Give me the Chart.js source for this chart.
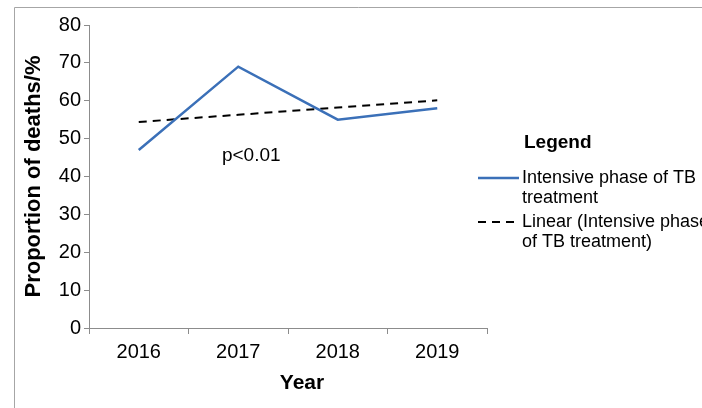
<!DOCTYPE html>
<html>
<head>
<meta charset="utf-8">
<script src="https://cdn.jsdelivr.net/npm/chart.js@4/dist/chart.umd.min.js"></script>
<style>
  html, body { margin: 0; padding: 0; background: #fff; }
  #wrap { width: 702px; height: 408px; }
</style>
</head>
<body>
<div id="wrap"><canvas id="chart"></canvas></div>
<script>
const years = ["2016", "2017", "2018", "2019"];
const deaths = [47, 69, 55, 58];
const trend = [54.4, 56.3, 58.2, 60.1];
const yTicks = [0, 10, 20, 30, 40, 50, 60, 70, 80];

const FONT = "'Liberation Sans', Arial, sans-serif";
const BLUE = "#3b70b8";
const AXIS = "#8c8c8c";

// frame, p-value note, x title and the two-line legend
const extras = {
  id: "extras",
  beforeDraw(chart) {
    const ctx = chart.ctx;
    ctx.save();
    ctx.strokeStyle = "#a6a6a6";
    ctx.lineWidth = 1;
    ctx.beginPath();
    ctx.moveTo(14.5, 408);
    ctx.lineTo(14.5, 7.5);
    ctx.lineTo(702, 7.5);
    ctx.stroke();
    ctx.restore();
  },
  afterDraw(chart) {
    const ctx = chart.ctx;
    const x = chart.scales.x;
    const y = chart.scales.y;
    ctx.save();
    ctx.fillStyle = "#000";
    ctx.textBaseline = "middle";

    ctx.font = "19px " + FONT;
    ctx.textAlign = "center";
    ctx.fillText("p<0.01", x.getPixelForValue(1) + 13, y.getPixelForValue(45.5));

    ctx.font = "bold 21px " + FONT;
    ctx.fillText("Year", 302, 383);

    ctx.textAlign = "left";
    ctx.font = "bold 19px " + FONT;
    ctx.fillText("Legend", 524, 143);

    const ds = chart.data.datasets;
    const rows = [[178, ["Intensive phase of TB", "treatment"]], [222, ["Linear (Intensive phase", "of TB treatment)"]]];
    rows.forEach(([ty, lines], i) => {
      const d = ds[i];
      ctx.strokeStyle = d.borderColor;
      ctx.lineWidth = d.borderWidth;
      ctx.setLineDash(d.borderDash || []);
      ctx.beginPath();
      ctx.moveTo(478, ty);
      ctx.lineTo(519, ty);
      ctx.stroke();
      ctx.setLineDash([]);
      ctx.font = "18px " + FONT;
      lines.forEach((t, j) => ctx.fillText(t, 522, ty + j * 20));
    });
    ctx.restore();
  }
};

new Chart(document.getElementById("chart"), {
  type: "line",
  data: {
    labels: years,
    datasets: [
      {
        label: "Intensive phase of TB treatment",
        data: deaths,
        borderColor: BLUE,
        borderWidth: 2.5,
        pointRadius: 0,
        tension: 0
      },
      {
        label: "Linear (Intensive phase of TB treatment)",
        data: trend,
        borderColor: "#000",
        borderWidth: 2,
        borderDash: [8, 6],
        pointRadius: 0,
        tension: 0
      }
    ]
  },
  options: {
    responsive: true,
    maintainAspectRatio: false,
    animation: false,
    layout: { padding: { left: 14, top: 25, right: 215, bottom: 0 } },
    plugins: {
      legend: { display: false },
      tooltip: { enabled: false }
    },
    scales: {
      x: {
        offset: true,
        grid: { offset: true, drawOnChartArea: false, drawTicks: true, tickLength: 6, color: AXIS },
        border: { color: AXIS, width: 1 },
        ticks: { color: "#000", font: { family: FONT, size: 20 }, padding: 6, maxRotation: 0 },
        afterFit(s) { s.height = 80; }
      },
      y: {
        min: 0,
        max: 80,
        afterBuildTicks(s) { s.ticks = yTicks.map(v => ({ value: v })); },
        grid: { drawOnChartArea: false, drawTicks: true, tickLength: 5, color: AXIS },
        border: { color: AXIS, width: 1 },
        ticks: { color: "#000", font: { family: FONT, size: 20 }, padding: 3 },
        title: {
          display: true,
          text: "Proportion of deaths/%",
          color: "#000",
          font: { family: FONT, size: 22, weight: "bold" },
          padding: { top: 7, bottom: 0 }
        },
        afterFit(s) { s.width = 75; }
      }
    }
  },
  plugins: [extras]
});
</script>
</body>
</html>
